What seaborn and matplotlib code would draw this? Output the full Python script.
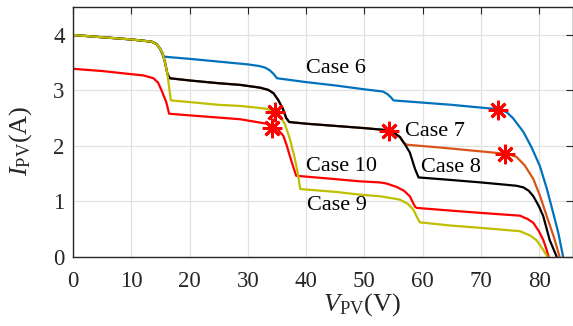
import numpy as np
import matplotlib
matplotlib.use("Agg")
import matplotlib.pyplot as plt
import seaborn as sns

# I-V curves (V in volts, I in amps)
v_case6 = [0, 5, 10, 13.5, 14.3, 14.9, 15.5, 20, 25, 30, 32, 33, 33.8, 34.4, 35.0,
           40, 45, 50, 53.2, 54.0, 54.6, 55.0, 60, 65, 70, 72.1, 73.1, 74.4, 75.5,
           77.3, 78.7, 80.1, 81.3, 82.4, 83.3, 84.1]
i_case6 = [4.0, 3.96, 3.92, 3.88, 3.84, 3.76, 3.61, 3.57, 3.52, 3.47, 3.44, 3.41, 3.36, 3.30, 3.22,
           3.15, 3.09, 3.02, 2.98, 2.93, 2.87, 2.82, 2.78, 2.74, 2.69, 2.67, 2.65, 2.61, 2.50,
           2.25, 1.97, 1.64, 1.23, 0.79, 0.42, 0.0]

v_case7 = [0, 5, 10, 13.5, 14.3, 14.9, 15.4, 15.8, 16.2, 16.6, 20, 25, 28.7, 32.1, 33.5,
           34.4, 35.2, 36.0, 36.6, 37.1, 40, 45, 50, 53.2, 54.4, 55.3, 56.1, 57.0,
           57.8, 58.7, 59.3, 63, 70, 76.1, 77.3, 78.2, 79.0, 80.0, 80.7, 81.8, 82.4, 83.0]
i_case7 = [4.0, 3.96, 3.92, 3.88, 3.84, 3.76, 3.66, 3.50, 3.30, 3.22, 3.18, 3.13, 3.10, 3.05, 3.01,
           2.95, 2.83, 2.67, 2.50, 2.43, 2.40, 2.36, 2.32, 2.29, 2.26, 2.22, 2.16, 2.02,
           1.88, 1.58, 1.43, 1.40, 1.34, 1.28, 1.25, 1.19, 1.09, 0.90, 0.73, 0.30, 0.15, 0.0]

v_case8 = [0, 5, 10, 13.5, 14.3, 14.9, 15.4, 15.8, 16.2, 16.6, 20, 25, 28.7, 32.1, 33.5,
           34.4, 35.2, 36.0, 36.6, 37.1, 40, 45, 50, 53.2, 54.4, 55.3, 56.1, 56.7, 57.3,
           63.0, 70, 74.0, 75.0, 76.1, 77.5, 79.0, 80.2, 81.3, 82.5, 83.5]
i_case8 = [4.0, 3.96, 3.92, 3.88, 3.84, 3.76, 3.66, 3.50, 3.30, 3.22, 3.18, 3.13, 3.10, 3.05, 3.01,
           2.95, 2.83, 2.67, 2.50, 2.43, 2.40, 2.36, 2.32, 2.29, 2.26, 2.22, 2.16, 2.06, 2.02,
           1.97, 1.90, 1.86, 1.84, 1.80, 1.65, 1.40, 1.08, 0.73, 0.36, 0.0]

v_case9 = [0, 5, 10, 13.5, 14.3, 14.9, 15.4, 15.8, 16.2, 16.5, 16.8, 20, 25, 28.7, 33.2,
           34.6, 35.5, 36.4, 37.2, 38.0, 38.5, 39.0, 45, 49.2, 52.7, 55.0, 56.1, 57.5,
           58.4, 59.0, 59.5, 65, 70, 76.7, 78.5, 79.5, 80.2, 80.7, 81.4]
i_case9 = [4.0, 3.96, 3.92, 3.88, 3.84, 3.76, 3.66, 3.50, 3.30, 3.05, 2.82, 2.79, 2.74, 2.72, 2.67,
           2.61, 2.55, 2.38, 2.13, 1.80, 1.55, 1.22, 1.17, 1.12, 1.09, 1.05, 1.03, 0.95,
           0.85, 0.72, 0.62, 0.56, 0.52, 0.46, 0.38, 0.30, 0.20, 0.12, 0.0]

v_case10 = [0, 5, 10.3, 12.1, 13.8, 14.6, 15.2, 16.0, 16.5, 20, 25, 28.7, 33.2, 34.1,
            35.2, 36.1, 36.7, 37.2, 37.8, 38.3, 45, 49.2, 52.7, 53.8, 55.5, 56.8, 57.8,
            58.7, 59.0, 65, 70, 76.7, 78.0, 79.0, 80.0, 80.7, 81.2, 81.6]
i_case10 = [3.39, 3.35, 3.29, 3.27, 3.22, 3.14, 3.00, 2.79, 2.58, 2.55, 2.51, 2.48, 2.40, 2.37,
            2.29, 2.18, 2.00, 1.82, 1.62, 1.46, 1.40, 1.36, 1.34, 1.32, 1.26, 1.19, 1.09,
            0.90, 0.88, 0.83, 0.79, 0.74, 0.68, 0.61, 0.45, 0.30, 0.15, 0.0]

# maximum power points
mpp_v = [34.6, 34.1, 54.3, 73.0, 74.2]
mpp_i = [2.61, 2.33, 2.27, 2.65, 1.86]

labels = ["Case 6", "Case 7", "Case 8", "Case 10", "Case 9"]
label_v = [40.0, 57.0, 59.8, 40.0, 40.2]
label_i = [3.31, 2.17, 1.52, 1.55, 0.84]

sns.set_style("whitegrid")
plt.rcParams["font.family"] = ["Liberation Serif", "DejaVu Serif"]
plt.rcParams["mathtext.fontset"] = "custom"
plt.rcParams["mathtext.rm"] = "Liberation Serif"
plt.rcParams["mathtext.it"] = "Liberation Serif:italic"

fig = plt.figure(figsize=(5.73, 3.26), dpi=100)
ax = fig.add_axes([0.1274, 0.2126, 0.8726, 0.765])

curves = [
    (v_case6, i_case6, "#0072BD"),
    (v_case8, i_case8, "#D95319"),
    (v_case7, i_case7, "black"),
    (v_case10, i_case10, "#FF0000"),
    (v_case9, i_case9, "#BFBF00"),
]
for v, i, c in curves:
    sns.lineplot(x=v, y=i, sort=False, estimator=None, color=c, lw=1.6, ax=ax)

ax.plot(mpp_v, mpp_i, linestyle="none", marker=(8, 2, 0), markersize=14,
        markeredgewidth=2, color="#FF0000")

for t, x, y in zip(labels, label_v, label_i):
    ax.text(x, y, t, fontsize=16, ha="left", va="baseline", color="black")

ax.set_xlim(0, 85.8)
ax.set_ylim(0, 4.5)
ax.set_xticks(np.arange(0, 90, 10))
ax.set_yticks([0, 1, 2, 3, 4])
ax.tick_params(direction="in", length=5, width=0.8, labelsize=16.5,
               colors="#262626", top=True, right=True, pad=6)
ax.tick_params(axis="x", pad=10)
ax.grid(True, color="#e2e2e2", lw=0.9)
for s in ax.spines.values():
    s.set_visible(True)
    s.set_color("#262626")
    s.set_linewidth(1.0)

ax.set_xlabel(r"$V_{\mathrm{PV}}$(V)", fontsize=19, color="#262626")
ax.set_ylabel(r"$I_{\mathrm{PV}}$(A)", fontsize=19, color="#262626")
ax.xaxis.set_label_coords(0.577, -0.14)
ax.yaxis.set_label_coords(-0.078, 0.464)

fig.savefig("out.png", dpi=100)
